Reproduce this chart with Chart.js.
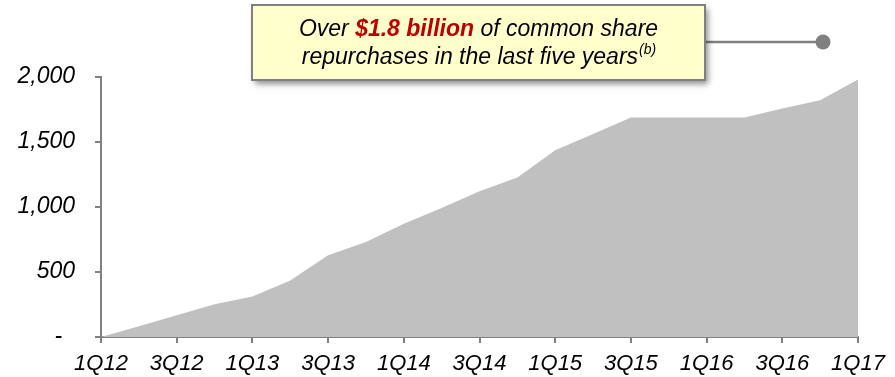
<!DOCTYPE html>
<html>
<head>
<meta charset="utf-8">
<script src="https://cdn.jsdelivr.net/npm/chart.js@4"></script>
<style>
  body { margin: 0; background: #fff; }
</style>
</head>
<body>
<canvas id="myChart" width="895" height="377"></canvas>
<script>
const quarters = [
  "1Q12", "2Q12", "3Q12", "4Q12", "1Q13", "2Q13", "3Q13", "4Q13",
  "1Q14", "2Q14", "3Q14", "4Q14", "1Q15", "2Q15", "3Q15", "4Q15",
  "1Q16", "2Q16", "3Q16", "4Q16", "1Q17"
];
// cumulative repurchases ($ millions)
const repurchases = [
  0, 82, 167, 251, 312, 434, 628, 731,
  872, 992, 1121, 1226, 1436, 1562, 1688, 1688,
  1688, 1688, 1757, 1821, 1980
];
const yTicks = [0, 500, 1000, 1500, 2000];

const calloutText1 = ["Over ", "$1.8 billion", " of common share"];
const calloutText2 = "repurchases in the last five years";
const calloutNote = "(b)";

const gray = "#808080";
const FONT = "'Liberation Sans', Arial, sans-serif";

Chart.defaults.font.family = FONT;
Chart.defaults.font.style = "italic";
Chart.defaults.color = "#000";

// draws the yellow callout box with its connector
const callout = {
  id: "callout",
  afterDraw(chart) {
    const ctx = chart.ctx;
    const x = 252, y = 5, w = 453, h = 75;
    ctx.save();
    // connector
    ctx.strokeStyle = gray;
    ctx.lineWidth = 2.5;
    ctx.beginPath();
    ctx.moveTo(x + w, 42);
    ctx.lineTo(823, 42);
    ctx.stroke();
    ctx.fillStyle = gray;
    ctx.beginPath();
    ctx.arc(823, 42, 7.5, 0, Math.PI * 2);
    ctx.fill();

    // box with shadow
    ctx.shadowColor = "rgba(0,0,0,0.45)";
    ctx.shadowBlur = 6;
    ctx.shadowOffsetX = 3;
    ctx.shadowOffsetY = 4;
    ctx.fillStyle = "#FFFFCC";
    ctx.fillRect(x, y, w, h);
    ctx.shadowColor = "transparent";
    ctx.strokeStyle = gray;
    ctx.lineWidth = 2;
    ctx.strokeRect(x, y, w, h);

    // text
    const cx = x + w / 2;
    const normal = "italic 23px " + FONT;
    const bold = "italic bold 23px " + FONT;
    const small = "italic 14px " + FONT;
    ctx.textBaseline = "alphabetic";
    ctx.textAlign = "left";
    const fonts = [normal, bold, normal];
    const colors = ["#000", "#C00000", "#000"];
    let total = 0;
    calloutText1.forEach((t, i) => {
      ctx.font = fonts[i];
      total += ctx.measureText(t).width;
    });
    let tx = cx - total / 2;
    calloutText1.forEach((t, i) => {
      ctx.font = fonts[i];
      ctx.fillStyle = colors[i];
      ctx.fillText(t, tx, 36);
      tx += ctx.measureText(t).width;
    });

    ctx.font = normal;
    const w2 = ctx.measureText(calloutText2).width;
    ctx.font = small;
    const wn = ctx.measureText(calloutNote).width;
    let tx2 = cx - (w2 + wn) / 2;
    ctx.font = normal;
    ctx.fillStyle = "#000";
    ctx.fillText(calloutText2, tx2, 64);
    ctx.font = small;
    ctx.fillText(calloutNote, tx2 + w2 + 1, 54);
    ctx.restore();
  },
};

new Chart("myChart", {
  type: "line",
  data: {
    labels: quarters,
    datasets: [
      {
        data: repurchases,
        fill: "origin",
        backgroundColor: "#C0C0C0",
        borderWidth: 0,
        pointRadius: 0,
        tension: 0,
      },
    ],
  },
  options: {
    responsive: false,
    animation: false,
    layout: { padding: { top: 77, right: 37, left: 0, bottom: 0 } },
    plugins: {
      legend: { display: false },
      tooltip: { enabled: false },
    },
    scales: {
      x: {
        afterFit: (scale) => { scale.height = 40; },
        border: { color: gray, width: 2 },
        grid: {
          drawOnChartArea: false,
          tickLength: 6,
          lineWidth: 2,
          color: (c) => (c.index % 2 === 0 ? gray : "transparent"),
          tickColor: (c) => (c.index % 2 === 0 ? gray : "transparent"),
        },
        ticks: {
          autoSkip: false,
          maxRotation: 0,
          padding: 8,
          font: { size: 22, style: "italic" },
          callback: function (v, i) {
            return i % 2 === 0 ? this.getLabelForValue(v) : "";
          },
        },
      },
      y: {
        min: 0,
        max: 2000,
        afterFit: (scale) => { scale.width = 101; },
        afterBuildTicks: (scale) => {
          scale.ticks = yTicks.map((v) => ({ value: v }));
        },
        border: { color: gray, width: 2 },
        grid: {
          drawOnChartArea: false,
          tickLength: 6,
          lineWidth: 2,
          color: gray,
        },
        ticks: {
          padding: 20,
          font: { size: 23, style: "italic" },
          // accounting style dash, padded like the original
          callback: (v) => (v === 0 ? "-  " : v.toLocaleString("en-US")),
        },
      },
    },
  },
  plugins: [callout],
});
</script>
</body>
</html>
